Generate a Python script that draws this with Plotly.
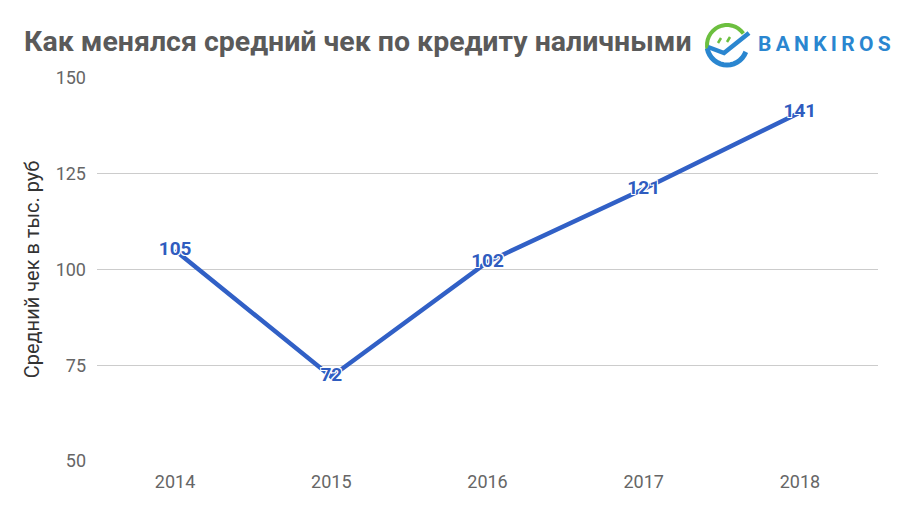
import math
import plotly.graph_objects as go

years = ["2014", "2015", "2016", "2017", "2018"]
avg_check = [105, 72, 102, 121, 141]
y_ticks = [50, 75, 100, 125, 150]

title_text = "Как менялся средний чек по кредиту наличными"
y_title = "Средний чек в тыс. руб"
brand = "BANKIROS"

W, H = 900, 512
L, R, T, B = 97, 22, 78, 51
PW, PH = W - L - R, H - T - B


def px(x):
    return (x - L) / PW


def py(y):
    return (H - B - y) / PH


def path(points):
    return "M " + " L ".join(f"{px(a):.5f},{py(b):.5f}" for a, b in points)


fig = go.Figure()
fig.add_trace(go.Scatter(
    x=years, y=avg_check, mode="lines+text",
    line=dict(color="#3160c6", width=4.5),
    text=[str(v) for v in avg_check], textposition="middle center",
    textfont=dict(family="Roboto", size=19, color="#2f5cbf", weight="bold",
                  shadow="-1px -1px 0 #fff, 1px -1px 0 #fff, -1px 1px 0 #fff, 1px 1px 0 #fff"),
    hoverinfo="skip", cliponaxis=False,
))

# logo geometry
cx, cy, r = 727, 45, 20
arc = [(cx + r * math.cos(math.radians(a)), cy - r * math.sin(math.radians(a))) for a in range(195, 25, -10)]
bowl = [(cx + r * math.cos(math.radians(a)), cy - r * math.sin(math.radians(a))) for a in range(190, 345, 10)]
shapes = [
    dict(type="path", xref="paper", yref="paper", path=path(arc),
         line=dict(color="#6cbf3f", width=4)),
    dict(type="path", xref="paper", yref="paper", path=path(bowl),
         line=dict(color="#2a86d0", width=5)),
    dict(type="path", xref="paper", yref="paper",
         path=path([(708, 47), (724, 53), (749, 33)]),
         line=dict(color="#2a86d0", width=4.5)),
    dict(type="path", xref="paper", yref="paper", path=path([(718, 43), (721, 38)]),
         line=dict(color="#6cbf3f", width=2.5)),
    dict(type="path", xref="paper", yref="paper", path=path([(727, 42), (730, 37)]),
         line=dict(color="#6cbf3f", width=2.5)),
]

fig.update_layout(
    width=W, height=H,
    margin=dict(l=L, r=R, t=T, b=B),
    paper_bgcolor="white", plot_bgcolor="white",
    showlegend=False,
    shapes=shapes,
    annotations=[
        dict(text=f"<b>{title_text}</b>", xref="paper", yref="paper",
             x=px(22), y=py(42), xanchor="left", yanchor="middle", showarrow=False,
             font=dict(family="Roboto", size=28.5, color="#5a5a5a")),
        dict(text="<b>" + "\u2009".join(brand) + "</b>", xref="paper", yref="paper",
             x=px(756), y=py(44), xanchor="left", yanchor="middle", showarrow=False,
             font=dict(family="Roboto", size=21, color="#2a86d0")),
    ],
    xaxis=dict(type="category", range=[-0.5, 4.5], showgrid=False, zeroline=False,
               showline=False, ticks="", ticklabelstandoff=8,
               tickfont=dict(family="Roboto", size=18, color="#666666")),
    yaxis=dict(range=[50, 150], tickvals=y_ticks, showgrid=True, gridcolor="#cccccc",
               gridwidth=1, zeroline=False, showline=False, ticks="",
               ticklabelstandoff=10,
               tickfont=dict(family="Roboto", size=18, color="#666666"),
               title=dict(text=y_title, standoff=10,
                          font=dict(family="Roboto", size=20, color="#333333"))),
)

fig.write_html("out.html", config={"displayModeBar": False},
               post_script="document.body.style.margin='0';")
